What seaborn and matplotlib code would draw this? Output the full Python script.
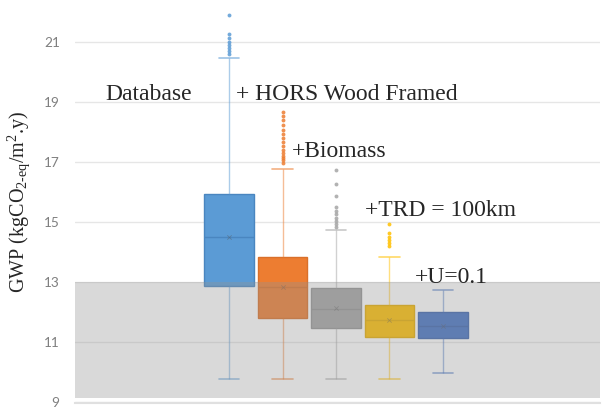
import numpy as np
import pandas as pd
import matplotlib
matplotlib.use("Agg")
import matplotlib.pyplot as plt
import seaborn as sns

# ---- data (GWP, kgCO2-eq/m2.y) ----
scenarios = ["Database", "+ HORS Wood Framed", "+Biomass", "+TRD = 100km", "+U=0.1"]
whisker_low = [9.77, 9.77, 9.77, 9.77, 9.97]
q1 = [12.88, 11.80, 11.47, 11.18, 11.13]
median = [14.50, 12.85, 12.10, 11.73, 11.53]
q3 = [15.93, 13.83, 12.80, 12.25, 12.00]
whisker_high = [20.48, 16.77, 14.73, 13.83, 12.73]
means = [14.50, 12.85, 12.12, 11.75, 11.55]
outliers = [
    [20.6, 20.7, 20.8, 20.9, 21.0, 21.13, 21.27, 21.9],
    [16.97, 17.07, 17.13, 17.2, 17.3, 17.4, 17.53, 17.67, 17.8, 17.93,
     18.07, 18.23, 18.4, 18.53, 18.67],
    [14.83, 14.93, 15.03, 15.13, 15.27, 15.37, 15.5, 15.87, 16.27, 16.73],
    [14.2, 14.3, 14.4, 14.5, 14.63, 14.93],
    [],
]
colors = ["#5B9BD5", "#ED7D31", "#A5A5A5", "#FFC000", "#4472C4"]
edge_colors = ["#4A86C0", "#D9702A", "#949494", "#E6AE00", "#3C64AE"]

# Build a sample per scenario whose quartiles/whiskers equal the read values
rows = []
for i, name in enumerate(scenarios):
    k = len(outliers[i])
    m = k + 1
    vals = ([whisker_low[i]] + [q1[i]] * m + [median[i]] * m + [q3[i]] * m
            + [whisker_high[i]] + sorted(outliers[i]))
    rows += [(name, v) for v in vals]
df = pd.DataFrame(rows, columns=["scenario", "gwp"])

sns.set_style("white")
plt.rcParams["font.family"] = ["DejaVu Sans"]
plt.rcParams["mathtext.fontset"] = "custom"
plt.rcParams["mathtext.rm"] = "Liberation Serif"
plt.rcParams["mathtext.it"] = "Liberation Serif:italic"

fig = plt.figure(figsize=(6.02, 4.12), dpi=100)
ax = fig.add_axes([75 / 602, 1 - 403 / 412, 525 / 602, 403 / 412])

pal = dict(zip(scenarios, colors))
sns.boxplot(data=df, x="scenario", y="gwp", hue="scenario", order=scenarios,
            hue_order=scenarios, palette=pal, legend=False, width=0.92,
            whis=1.5, ax=ax, saturation=1, linewidth=1,
            flierprops=dict(marker="o", markersize=2.8, markeredgewidth=0))

# recolor lines per box
for ln in ax.lines:
    xd = np.asarray(ln.get_xdata(), dtype=float)
    if xd.size == 0:
        continue
    cx = float(np.mean(xd))
    idx = min(max(int(round(cx)), 0), len(scenarios) - 1)
    c = colors[idx]
    if ln.get_marker() not in (None, "None", "", " "):
        ln.set_markerfacecolor(c)
        ln.set_markeredgecolor(c)
        ln.set_color(c)
        ln.set_alpha(0.85)
        continue
    span = float(np.ptp(xd))
    if span > 0.8:  # median line
        ln.set_color(edge_colors[idx])
        ln.set_linewidth(1.0)
    elif span > 0.01:  # cap
        ln.set_xdata([idx - 0.19, idx + 0.19])
        ln.set_color(c)
        ln.set_alpha(0.6)
        ln.set_linewidth(1.2)
    else:  # whisker
        ln.set_color(c)
        ln.set_alpha(0.5)
        ln.set_linewidth(1.0)
for i, p in enumerate(ax.patches):
    p.set_edgecolor(edge_colors[i % len(edge_colors)])
    p.set_linewidth(1.0)

# mean markers
sns.scatterplot(x=scenarios, y=means, marker="x", s=10, color="#555555",
                linewidth=0.6, ax=ax, zorder=5, alpha=0.4, legend=False)

# shaded threshold region (overlay)
ax.axhspan(9.13, 13.0, color="#939393", alpha=0.35, lw=0, zorder=10)

ax.set_xlim(-2.879, 6.935)
ax.set_ylim(8.967, 22.4)
ax.set_yticks([9, 11, 13, 15, 17, 19, 21])
ax.set_xticks([])
ax.set_xlabel("")
ax.set_ylabel(r"GWP (kgCO$_{\mathrm{2\text{-}eq}}$/m$^{\mathrm{2}}$.y)",
              family="Liberation Serif", fontsize=14.5)
ax.yaxis.set_label_coords(-0.082, 0.50)
ax.tick_params(axis="y", length=0, pad=11, labelsize=9.8, labelcolor="#7f7f7f")
for t in ax.get_yticklabels():
    t.set_family("Lato")
ax.yaxis.grid(True, color="#e6e6e6", lw=1)
ax.set_axisbelow(True)
for s in ["left", "right", "top"]:
    ax.spines[s].set_visible(False)
ax.spines["bottom"].set_color("#e0e0e0")
ax.spines["bottom"].set_linewidth(1.5)

# scenario labels
label_x = [-2.318, 0.131, 1.178, 2.542, 3.477]
label_y = [19.07, 19.07, 17.17, 15.2, 12.97]
for name, lx, ly in zip(scenarios, label_x, label_y):
    ax.text(lx, ly, name, family="Liberation Serif", fontsize=17,
            ha="left", va="baseline", zorder=20)

fig.savefig("out.png", dpi=100)
